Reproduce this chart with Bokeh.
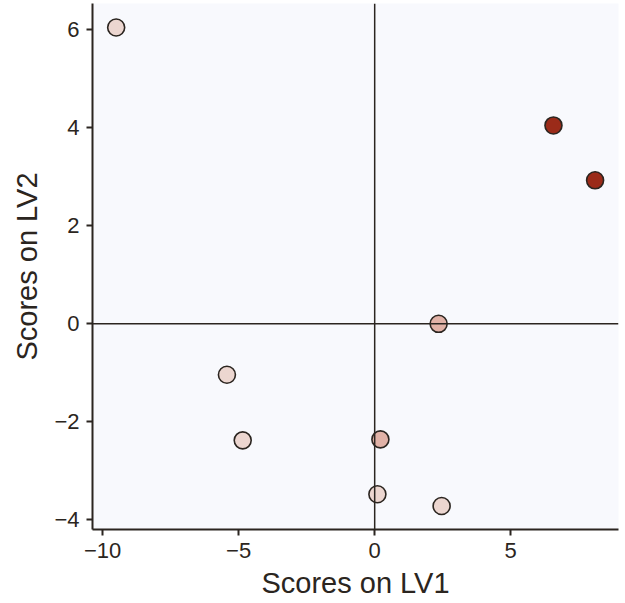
from bokeh.plotting import figure
from bokeh.models import ColumnDataSource, Span, CategoricalColorMapper, FixedTicker, Range1d
from bokeh.embed import file_html
from bokeh.resources import INLINE

# Data
lv1 = [-9.5, 6.57, 8.1, 2.35, -5.43, -4.85, 0.21, 0.1, 2.46]
lv2 = [6.05, 4.05, 2.93, 0.0, -1.04, -2.38, -2.36, -3.48, -3.72]
group = ["low", "high", "high", "mid", "low", "low", "mid", "low", "low"]
group_levels = ["low", "mid", "high"]
group_colors = ["#ecd6d0", "#e1b2a7", "#9b2b19"]
x_ticks = [-10, -5, 0, 5]
y_ticks = [-4, -2, 0, 2, 4, 6]

ink = "#2b2520"
font = "Liberation Sans"

src = ColumnDataSource(dict(x=lv1, y=lv2, g=group))
mapper = CategoricalColorMapper(factors=group_levels, palette=group_colors)

p = figure(width=620, height=603, output_backend="svg", toolbar_location=None,
           x_range=Range1d(-10.37, 8.96), y_range=Range1d(-4.2, 6.54),
           min_border_left=92, min_border_right=2, min_border_top=3, min_border_bottom=74,
           background_fill_color="#f8f9fd", border_fill_color="white",
           x_axis_label="Scores on LV1", y_axis_label="Scores on LV2")
p.outline_line_color = None
p.grid.visible = False

for ax in (p.xaxis[0], p.yaxis[0]):
    ax.axis_line_color = ink
    ax.axis_line_width = 2
    ax.major_tick_line_color = ink
    ax.major_tick_line_width = 2
    ax.major_tick_out = 6
    ax.major_tick_in = 0
    ax.minor_tick_line_color = None
    ax.major_label_text_font = font
    ax.major_label_text_font_size = "22px"
    ax.major_label_text_color = ink
    ax.axis_label_text_font = font
    ax.axis_label_text_font_size = "29px"
    ax.axis_label_text_font_style = "normal"
    ax.axis_label_text_color = ink

p.xaxis[0].ticker = FixedTicker(ticks=x_ticks)
p.yaxis[0].ticker = FixedTicker(ticks=y_ticks)
p.xaxis[0].major_label_standoff = 7
p.yaxis[0].major_label_standoff = 7
p.xaxis[0].axis_label_standoff = 6
p.yaxis[0].axis_label_standoff = 8

p.add_layout(Span(location=0, dimension="height", line_color=ink, line_width=1.5))
p.add_layout(Span(location=0, dimension="width", line_color=ink, line_width=1.5))

p.scatter("x", "y", source=src, size=17, fill_color={"field": "g", "transform": mapper},
          line_color=ink, line_width=1.6)

open("out.html", "w").write(file_html(p, INLINE))
